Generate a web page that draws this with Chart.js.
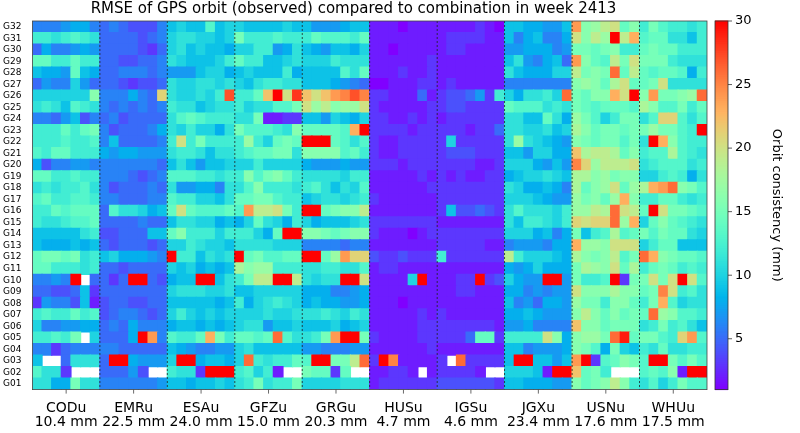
<!DOCTYPE html>
<html>
<head>
<meta charset="utf-8">
<script src="https://cdn.jsdelivr.net/npm/chart.js@4/dist/chart.umd.min.js"></script>
<style>
  body { margin: 0; background: #fff; }
  #wrap { width: 800px; height: 433px; }
</style>
</head>
<body>
<div id="wrap"><canvas id="heat"></canvas></div>
<script>
// satellites, bottom to top
const sats = Array.from({ length: 32 }, (_, i) => 'G' + String(i + 1).padStart(2, '0'));
const centers = ['CODu', 'EMRu', 'ESAu', 'GFZu', 'GRGu', 'HUSu', 'IGSu', 'JGXu', 'USNu', 'WHUu'];
const centerRms = ['10.4 mm', '22.5 mm', '24.0 mm', '15.0 mm', '20.3 mm', '4.7 mm', '4.6 mm', '23.4 mm', '17.6 mm', '17.5 mm'];
const days = 7;

// each row = one satellite, 7 days; rows listed G32 (top) down to G01; null = no value
const CODu = [
  [6,6,6,7,8,8,6],[12,12,11,12,13,12,11],[5,8,6,6,7,8,7],[14,14,12,12,14,12,12],[9,8,8,7,14,9,8],
  [5,7,6,6,10,7,5],[10,10,10,10,10,10,16],[11,12,11,9,13,12,11],[6,6,5,7,9,4,6],[12,12,12,14,12,14,15],
  [12,12,12,13,12,12,13],[13,12,14,14,12,12,12],[8,4,6,6,7,7,6],[14,14,12,12,13,12,12],[11,12,11,12,12,13,11],
  [13,14,12,12,13,13,12],[12,12,14,13,14,14,14],[12,11,11,12,13,13,14],[9,9,9,9,9,11,12],[9,8,8,8,9,8,9],
  [14,15,15,14,15,11,12],[14,14,12,12,12,11,12],[6,6,7,6,30,null,5],[5,5,4,4,5,9,3],[3,7,6,6,4,9,2],
  [12,13,12,12,14,12,13],[10,6,6,7,7,8,8],[12,12,13,12,15,null,10],[6,6,3,5,6,6,6],[9,null,null,5,11,11,11],
  [13,11,11,3,null,null,null],[11,11,8,8,15,11,11]
];
const EMRu = [
  [5,6,5,4,4,4,6],[5,5,5,5,4,5,6],[5,5,5,5,4,3,5],[5,5,4,4,5,5,6],[5,5,6,6,6,5,6],
  [5,5,4,3,4,4,5],[6,6,6,8,6,5,21],[6,5,6,5,6,5,6],[5,6,4,5,5,5,5],[6,4,5,5,5,6,8],
  [6,9,5,5,5,5,6],[8,7,8,8,7,7,7],[6,6,6,6,6,6,5],[6,6,6,5,4,5,6],[6,4,5,5,5,6,5],
  [6,6,5,5,5,6,6],[5,13,11,11,10,8,9],[5,5,5,5,6,5,5],[4,4,5,5,5,9,9],[5,4,5,5,5,4,5],
  [9,10,8,8,8,7,6],[5,5,4,5,5,5,5],[5,3,5,30,30,5,4],[5,5,5,5,5,5,5],[4,5,5,4,4,5,5],
  [4,5,6,6,5,4,5],[5,6,5,8,6,6,6],[5,5,5,8,30,24,6],[6,6,5,5,5,5,5],[5,30,30,8,7,7,7],
  [5,5,5,7,4,null,null],[6,6,6,6,6,6,7]
];
const ESAu = [
  [9,10,9,9,13,9,10],[10,11,11,10,10,9,10],[10,11,9,10,9,9,8],[11,10,9,9,9,10,12],[7,7,7,9,10,10,8],
  [11,10,10,11,11,10,11],[11,10,10,11,10,12,27],[12,11,11,9,10,11,11],[11,13,14,13,12,12,12],[11,10,12,10,10,8,11],
  [12,20,12,15,12,12,12],[11,12,12,11,9,11,11],[9,11,9,7,9,9,10],[13,13,13,12,12,11,12],[11,7,7,8,8,6,11],
  [13,12,12,10,10,9,11],[14,20,14,13,13,13,14],[9,11,11,10,10,8,9],[14,16,12,12,12,10,12],[10,10,12,11,10,10,9],
  [30,12,12,9,11,10,11],[10,9,10,8,9,8,9],[8,9,9,30,30,9,11],[10,11,11,11,10,10,11],[9,9,9,9,9,8,9],
  [10,12,10,9,10,9,10],[8,9,9,8,9,8,9],[13,12,12,14,23,15,12],[9,8,7,6,6,7,7],[10,30,30,8,9,9,8],
  [12,11,11,3,30,30,30],[9,9,8,9,9,10,9]
];
const GFZu = [
  [10,9,9,9,9,10,9],[15,12,12,12,13,12,12],[10,10,12,12,7,8,11],[14,12,12,9,9,10,11],[9,10,9,9,9,12,8],
  [10,9,11,12,12,11,11],[12,12,14,22,30,20,28],[12,10,11,11,13,13,15],[11,11,15,2,2,3,3],[15,13,13,13,12,11,16],
  [12,17,12,10,14,15,14],[12,13,14,14,15,15,11],[10,10,12,10,10,10,10],[12,16,13,15,16,14,12],[11,13,16,12,12,12,11],
  [14,14,15,15,13,12,12],[13,24,19,19,20,15,12],[8,10,14,11,10,8,12],[12,12,10,8,14,30,30],[11,11,11,11,10,10,10],
  [30,14,15,13,13,14,14],[18,16,17,17,12,12,12],[12,15,19,19,30,30,19],[9,9,10,10,10,10,10],[12,8,10,11,12,11,10],
  [10,10,10,11,10,10,11],[10,11,11,7,9,9,10],[14,14,13,14,26,13,11],[10,11,9,9,9,9,9],[10,26,12,11,12,12,14],
  [12,13,10,12,2,null,null],[11,12,15,11,12,12,15]
];
const GRGu = [
  [9,7,7,7,8,9,9],[12,14,13,13,13,12,14],[9,8,7,9,9,8,10],[10,10,10,12,11,11,11],[9,9,9,9,13,11,14],
  [9,9,9,8,7,6,5],[22,20,22,24,25,27,25],[20,17,19,16,17,17,20],[9,9,7,10,9,8,10],[14,14,14,14,13,23,30],
  [30,30,30,14,13,11,13],[16,16,16,16,13,14,12],[8,7,7,7,8,7,7],[11,11,11,11,10,12,12],[12,13,11,9,11,10,13],
  [9,10,11,11,10,11,12],[30,30,14,15,16,16,19],[10,8,9,9,9,10,11],[16,16,15,14,15,16,16],[6,6,6,6,5,6,6],
  [30,30,14,17,24,21,21],[11,11,12,12,11,11,13],[11,10,11,11,30,30,20],[8,8,8,6,6,7,8],[8,9,8,8,7,7,8],
  [11,11,12,11,10,12,11],[9,9,9,10,8,9,10],[11,12,15,24,30,30,15],[7,7,6,6,6,7,7],[13,30,30,15,15,19,26],
  [15,14,14,3,14,null,null],[10,10,10,10,11,11,11]
];
const HUSu = [
  [2,2,2,1,2,2,2],[2,2,2,2,2,2,2],[2,2,1,2,2,2,2],[2,2,2,2,2,2,3],[2,2,2,3,2,2,3],
  [1,1,2,2,2,3,3],[3,3,2,2,2,5,2],[3,2,2,2,2,2,3],[3,3,2,2,3,2,3],[3,3,3,3,2,3,3],
  [3,2,2,3,3,3,3],[3,2,2,3,3,3,3],[3,3,3,2,3,3,3],[2,2,2,2,2,3,2],[2,2,2,2,2,2,3],
  [3,2,2,2,2,2,2],[2,2,2,2,2,2,2],[3,3,3,3,3,3,3],[3,2,2,2,1,2,3],[2,2,2,2,2,2,2],
  [4,3,3,4,3,3,3],[2,3,3,2,2,2,2],[2,2,2,2,10,30,2],[2,2,2,2,2,2,2],[2,2,2,1,2,2,2],
  [2,2,2,2,2,3,2],[2,2,2,2,2,3,3],[3,2,2,2,2,3,3],[2,2,2,2,2,2,3],[3,30,25,2,2,2,2],
  [2,2,3,3,2,null,2],[2,3,3,3,3,3,3]
];
const IGSu = [
  [2,2,2,2,3,2,1],[2,3,3,3,3,2,2],[2,3,3,2,2,2,2],[2,2,2,2,2,2,2],[2,2,2,2,2,2,2],
  [2,3,2,2,2,2,2],[3,4,4,5,7,3,12],[3,4,4,3,3,3,3],[2,3,3,3,3,3,3],[3,3,3,2,3,3,5],
  [3,10,3,3,3,3,3],[3,4,4,4,3,3,3],[3,3,3,3,2,2,3],[3,2,3,2,2,3,3],[3,3,3,3,3,3,3],
  [3,3,3,3,3,3,3],[3,9,4,4,5,4,3],[2,2,2,2,2,2,2],[3,3,3,3,3,3,3],[3,3,3,3,3,2,2],
  [12,3,3,3,3,3,3],[2,2,2,2,2,2,2],[2,2,3,3,30,3,4],[2,2,3,3,2,2,2],[2,2,2,2,2,2,2],
  [3,2,2,2,2,2,2],[3,3,3,3,3,3,2],[3,3,3,5,14,14,3],[2,2,2,2,2,2,2],[3,null,26,3,3,3,3],
  [3,3,3,3,2,null,null],[4,4,4,4,4,4,3]
];
const JGXu = [
  [9,9,8,8,7,7,9],[9,6,8,9,6,6,8],[7,7,8,8,8,6,7],[9,11,7,6,8,9,5],[11,9,8,8,8,10,10],
  [6,6,6,6,6,6,6],[10,8,11,11,12,10,26],[14,13,13,13,11,12,11],[11,11,9,9,14,11,8],[11,11,10,10,11,9,10],
  [11,17,11,10,9,8,7],[9,9,7,10,10,8,8],[10,10,10,8,7,9,7],[8,9,10,10,11,10,9],[11,10,8,8,9,8,6],
  [10,10,10,9,8,7,7],[11,13,11,11,11,10,12],[11,9,12,12,11,10,12],[10,10,10,8,9,6,8],[6,7,7,7,6,8,8],
  [19,12,10,10,10,9,8],[8,7,8,10,8,8,8],[10,8,7,7,30,30,7],[8,8,6,7,6,7,7],[9,6,7,5,8,8,7],
  [8,8,9,8,7,7,7],[7,7,8,6,6,6,6],[12,12,12,12,20,16,8],[9,9,6,7,7,7,8],[9,30,30,9,9,7,9],
  [10,10,10,9,2,30,30],[9,9,8,8,8,7,7]
];
const USNu = [
  [24,16,17,19,20,14,16],[20,16,19,17,30,19,23],[15,15,14,15,16,12,12],[24,16,14,13,19,15,20],[19,15,16,15,26,14,19],
  [16,17,16,14,18,20,14],[15,14,16,16,23,20,30],[15,14,13,14,14,14,13],[17,15,13,10,12,15,15],[18,16,14,15,15,14,15],
  [16,15,14,15,15,13,15],[22,18,19,19,18,14,16],[25,21,17,19,19,19,20],[18,18,16,17,15,16,16],[18,14,16,17,20,14,17],
  [17,15,16,14,17,23,16],[17,17,19,18,26,20,19],[21,20,21,21,26,17,23],[15,9,12,13,18,13,14],[23,17,17,16,20,20,20],
  [18,16,15,16,19,13,15],[15,18,17,16,20,14,18],[15,12,12,13,30,3,15],[20,16,16,16,18,16,16],[17,15,15,12,16,16,14],
  [16,19,16,14,16,14,15],[22,16,16,14,15,15,15],[16,17,17,15,26,29,14],[16,15,13,8,15,10,9],[24,30,3,13,14,16,15],
  [22,14,15,12,null,null,null],[16,14,15,16,19,16,12]
];
const WHUu = [
  [12,15,13,12,12,11,12],[13,14,14,11,11,9,12],[14,15,14,14,12,12,12],[15,15,15,12,11,11,11],[14,13,14,14,13,8,12],
  [14,15,20,11,11,11,11],[16,24,15,15,16,17,26],[18,16,13,13,15,12,14],[11,13,21,21,13,11,13],[15,17,15,15,13,12,30],
  [11,30,23,16,13,12,12],[12,13,13,18,13,12,11],[11,12,13,13,13,11,12],[10,10,12,13,12,8,11],[18,23,24,26,16,15,13],
  [12,12,14,14,12,11,12],[14,30,20,15,15,14,13],[10,14,16,14,13,12,11],[15,13,15,14,14,11,10],[10,12,14,14,9,9,9],
  [26,23,16,15,14,14,13],[12,14,15,14,12,13,12],[15,20,15,20,30,20,13],[14,15,25,20,12,13,11],[12,15,23,13,10,11,11],
  [14,26,17,16,13,13,12],[11,12,15,12,13,11,9],[15,15,13,12,21,24,13],[12,11,14,11,11,12,12],[13,30,30,15,13,15,13],
  [13,14,13,16,2,30,30],[11,13,10,12,15,13,13]
];
const centerData = [CODu, EMRu, ESAu, GFZu, GRGu, HUSu, IGSu, JGXu, USNu, WHUu];
const colorTicks = [5, 10, 15, 20, 25, 30];
const vmin = 1, vmax = 30;

// matplotlib "rainbow"
function rainbow(v) {
  let x = Math.min(1, Math.max(0, (v - vmin) / (vmax - vmin)));
  const r = Math.min(1, Math.abs(2 * x - 0.5));
  const g = Math.sin(Math.PI * x);
  const b = Math.cos(Math.PI * x / 2);
  return `rgb(${Math.round(r * 255)},${Math.round(g * 255)},${Math.round(b * 255)})`;
}

const xLabels = [];
centers.forEach(c => { for (let d = 0; d < days; d++) xLabels.push(c + '-' + d); });

// one dataset per satellite row
const datasets = sats.map((s, si) => {
  const vals = [];
  centerData.forEach(cd => cd[31 - si].forEach(v => vals.push(v)));
  return {
    label: s,
    data: vals.map(v => v == null ? null : [si - 0.5, si + 0.5]),
    backgroundColor: vals.map(v => v == null ? 'rgba(0,0,0,0)' : rainbow(v)),
    borderWidth: 0,
    grouped: false,
    barPercentage: 1,
    categoryPercentage: 1,
    inflateAmount: 0.6
  };
});

const decor = {
  id: 'decor',
  afterDatasetsDraw(chart) {
    const { ctx, chartArea: a, scales: { x } } = chart;
    ctx.save();
    ctx.strokeStyle = '#222';
    ctx.lineWidth = 0.8;
    ctx.setLineDash([2, 2]);
    for (let k = 1; k < centers.length; k++) {
      const px = (x.getPixelForValue(k * days - 1) + x.getPixelForValue(k * days)) / 2;
      ctx.beginPath(); ctx.moveTo(px, a.top); ctx.lineTo(px, a.bottom); ctx.stroke();
    }
    ctx.setLineDash([]);
    ctx.strokeStyle = '#444';
    ctx.strokeRect(a.left, a.top, a.right - a.left, a.bottom - a.top);
    // x tick marks under each centre
    for (let k = 0; k < centers.length; k++) {
      const px = (x.getPixelForValue(k * days) + x.getPixelForValue(k * days + days - 1)) / 2;
      ctx.beginPath(); ctx.moveTo(px, a.bottom); ctx.lineTo(px, a.bottom + 4); ctx.stroke();
    }
    // colour bar
    const bx = a.right + 8, bw = 13;
    const yOf = v => a.bottom - (v - vmin) / (vmax - vmin) * (a.bottom - a.top);
    for (let i = 0; i < 200; i++) {
      const v = vmin + (vmax - vmin) * i / 200;
      const y0 = yOf(v), y1 = yOf(vmin + (vmax - vmin) * (i + 1) / 200);
      ctx.fillStyle = rainbow(v);
      ctx.fillRect(bx, y1 - 0.5, bw, y0 - y1 + 1);
    }
    ctx.strokeStyle = '#333';
    ctx.strokeRect(bx, a.top, bw, a.bottom - a.top);
    ctx.fillStyle = '#000';
    ctx.font = '13px "DejaVu Sans"';
    ctx.textBaseline = 'middle';
    ctx.textAlign = 'left';
    colorTicks.forEach(t => {
      const y = yOf(t);
      ctx.beginPath(); ctx.moveTo(bx + bw, y); ctx.lineTo(bx + bw + 4, y); ctx.stroke();
      ctx.fillText(String(t), bx + bw + 7, y);
    });
    ctx.translate(bx + bw + 48, (a.top + a.bottom) / 2);
    ctx.rotate(Math.PI / 2);
    ctx.textAlign = 'center';
    ctx.fillText('Orbit consistency (mm)', 0, 0);
    ctx.restore();
  }
};

new Chart(document.getElementById('heat'), {
  type: 'bar',
  data: { labels: xLabels, datasets },
  plugins: [decor],
  options: {
    responsive: true,
    maintainAspectRatio: false,
    animation: false,
    layout: { padding: { left: 0, right: 93, top: 0, bottom: 0 } },
    plugins: {
      legend: { display: false },
      tooltip: { enabled: false },
      title: {
        display: true,
        text: 'RMSE of GPS orbit (observed) compared to combination in week 2413',
        color: '#000',
        font: { family: 'DejaVu Sans', size: 15, weight: 'normal' },
        padding: { top: 0, bottom: 3 }
      }
    },
    scales: {
      x: {
        grid: { display: false },
        border: { display: false },
        ticks: {
          autoSkip: false,
          maxRotation: 0,
          color: '#000',
          font: { family: 'DejaVu Sans', size: 14, lineHeight: 1.05 },
          padding: 3,
          callback: (v, i) => {
            if (i % days !== 3) return '';
            const k = Math.floor(i / days);
            return [centers[k], centerRms[k]];
          }
        }
      },
      y: {
        type: 'linear',
        min: -0.5,
        max: 31.5,
        grid: { display: false },
        border: { display: false },
        afterBuildTicks: s => { s.ticks = sats.map((_, i) => ({ value: i })); },
        ticks: {
          autoSkip: false,
          color: '#000',
          font: { family: 'DejaVu Sans', size: 9 },
          padding: 3,
          callback: v => sats[v]
        }
      }
    }
  }
});
</script>
</body>
</html>
